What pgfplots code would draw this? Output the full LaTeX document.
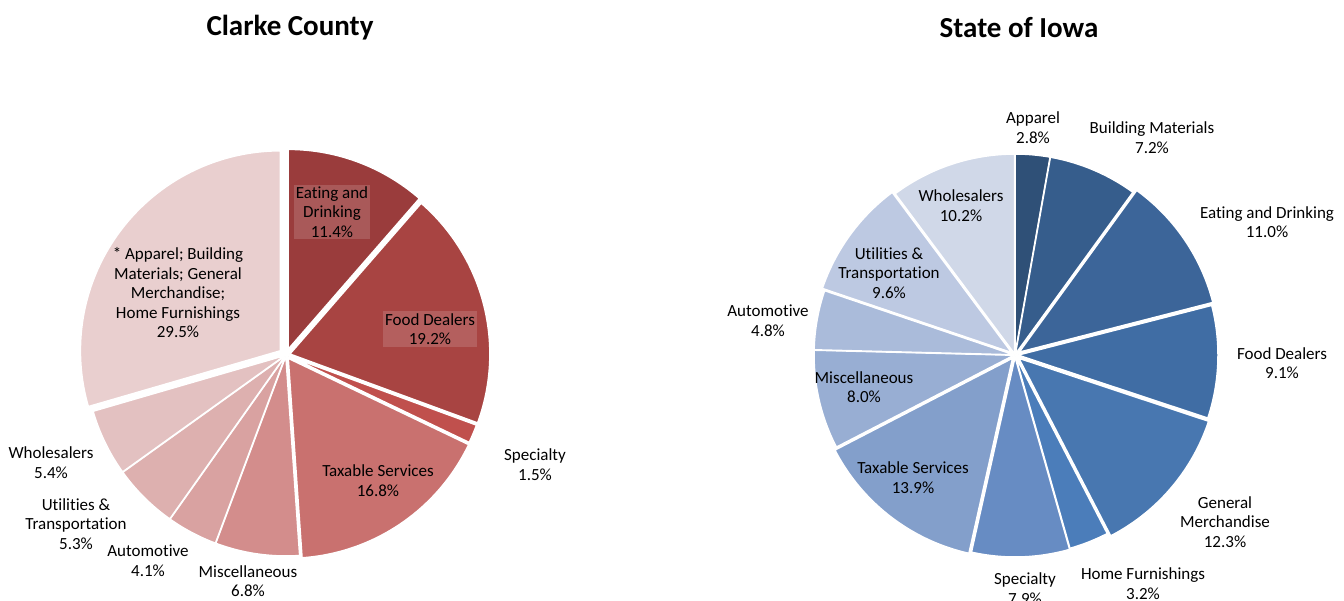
\documentclass[border=0pt]{standalone}
\usepackage{pgfplots}
\pgfplotsset{compat=1.18}
\usepackage{pgfplotstable}
\usepackage{fontspec}
\setmainfont{Carlito}[Ligatures=NoCommon]

% Clarke County colours
\definecolor{cA0}{HTML}{9A3C3C}
\definecolor{cA1}{HTML}{A84442}
\definecolor{cA2}{HTML}{C0504D}
\definecolor{cA3}{HTML}{C9716F}
\definecolor{cA4}{HTML}{D38D8C}
\definecolor{cA5}{HTML}{D9A2A1}
\definecolor{cA6}{HTML}{DDB0AF}
\definecolor{cA7}{HTML}{E3C1C1}
\definecolor{cA8}{HTML}{E9CFCF}
% Iowa colours
\definecolor{cB0}{HTML}{2F5077}
\definecolor{cB1}{HTML}{365D8C}
\definecolor{cB2}{HTML}{3C6599}
\definecolor{cB3}{HTML}{406DA4}
\definecolor{cB4}{HTML}{4877B0}
\definecolor{cB5}{HTML}{4B7DBA}
\definecolor{cB6}{HTML}{678CC3}
\definecolor{cB7}{HTML}{839FCB}
\definecolor{cB8}{HTML}{98AED3}
\definecolor{cB9}{HTML}{AABBDA}
\definecolor{cB10}{HTML}{BDC9E2}
\definecolor{cB11}{HTML}{D0D8E8}

% Clarke County: share (%), explosion (px)
\pgfplotstableread{
value explode
11.4 6
19.2 4
1.5 3
16.8 4
6.8 1
4.1 1
5.3 1
5.4 1
29.5 7
}\clarketable

% State of Iowa
\pgfplotstableread{
value explode
2.8 1
7.2 1
11.0 5
9.1 3
12.3 5
3.2 1
7.9 2
13.9 4
8.0 1
4.8 1
9.6 4
10.2 1
}\iowatable

\newcommand\drawpie[5]{% #1 table, #2 cx, #3 cy, #4 colour prefix, #5 radius
  \pgfplotstablegetrowsof{#1}%
  \pgfmathtruncatemacro\N{\pgfplotsretval-1}%
  \def\cum{0}%
  \pgfplotsforeachungrouped \i in {0,...,\N}{%
    \pgfplotstablegetelem{\i}{value}\of{#1}\let\v\pgfplotsretval
    \pgfplotstablegetelem{\i}{explode}\of{#1}\let\e\pgfplotsretval
    \pgfmathsetmacro\a{90-3.6*\cum}%
    \pgfmathsetmacro\b{90-3.6*(\cum+\v)}%
    \pgfmathsetmacro\ox{#2+\e*cos((\a+\b)/2)}%
    \pgfmathsetmacro\oy{#3+\e*sin((\a+\b)/2)}%
    \edef\temp{\noexpand\addplot[fill=#4\i, draw=white, line width=1.5pt, domain=\b:\a, samples=80]
      ({\ox+#5*cos(x)},{\oy+#5*sin(x)}) -- (axis cs:\ox,\oy) -- cycle;}%
    \temp
    \pgfmathsetmacro\cum{\cum+\v}%
  }%
}

\begin{document}
\begin{tikzpicture}
\useasboundingbox (0,0) rectangle (1344pt,600pt);
\begin{axis}[
  at={(0,0)}, anchor=south west,
  scale only axis, width=1344pt, height=600pt,
  xmin=0, xmax=1344, ymin=0, ymax=600,
  hide axis, clip=false,
]
\drawpie{\clarketable}{286}{245}{cA}{200}
\drawpie{\iowatable}{1015}{245}{cB}{200}

\tikzset{lab/.style={align=center, inner sep=0pt, text=black, font=\fontsize{17}{19.5}\selectfont}}

% titles
\node[font=\fontsize{29}{33}\bfseries, inner sep=0pt] at (axis cs:290,572) {Clarke County};
\node[font=\fontsize{29}{33}\bfseries, inner sep=0pt] at (axis cs:1019,572) {State of Iowa};

% Clarke labels
\node[lab, fill=white, fill opacity=0.15, text opacity=1, inner sep=2pt] at (axis cs:332,388) {Eating and\\Drinking\\11.4\%};
\node[lab, fill=white, fill opacity=0.15, text opacity=1, inner sep=2pt] at (axis cs:430,271) {Food Dealers\\19.2\%};
\node[lab] at (axis cs:178,307) {* Apparel; Building\\Materials; General\\Merchandise;\\Home Furnishings\\29.5\%};
\node[lab] at (axis cs:535,135.5) {Specialty\\1.5\%};
\node[lab] at (axis cs:378,119.5) {Taxable Services\\16.8\%};
\node[lab] at (axis cs:248,19) {Miscellaneous\\6.8\%};
\node[lab] at (axis cs:148,39.5) {Automotive\\4.1\%};
\node[lab] at (axis cs:76,76) {Utilities \&\\Transportation\\5.3\%};
\node[lab] at (axis cs:51,137.5) {Wholesalers\\5.4\%};

% Iowa labels
\node[lab] at (axis cs:1033,472.5) {Apparel\\2.8\%};
\node[lab] at (axis cs:1152,462.5) {Building Materials\\7.2\%};
\node[lab] at (axis cs:1267,378) {Eating and Drinking\\11.0\%};
\node[lab] at (axis cs:1282,237) {Food Dealers\\9.1\%};
\node[lab] at (axis cs:1225,78) {General\\Merchandise\\12.3\%};
\node[lab] at (axis cs:1143,16.5) {Home Furnishings\\3.2\%};
\node[lab] at (axis cs:1025,11.5) {Specialty\\7.9\%};
\node[lab] at (axis cs:913,122.5) {Taxable Services\\13.9\%};
\node[lab] at (axis cs:864,213) {Miscellaneous\\8.0\%};
\node[lab] at (axis cs:768,279.5) {Automotive\\4.8\%};
\node[lab] at (axis cs:889,327) {Utilities \&\\Transportation\\9.6\%};
\node[lab] at (axis cs:961,394.5) {Wholesalers\\10.2\%};
\end{axis}
\end{tikzpicture}
\end{document}
